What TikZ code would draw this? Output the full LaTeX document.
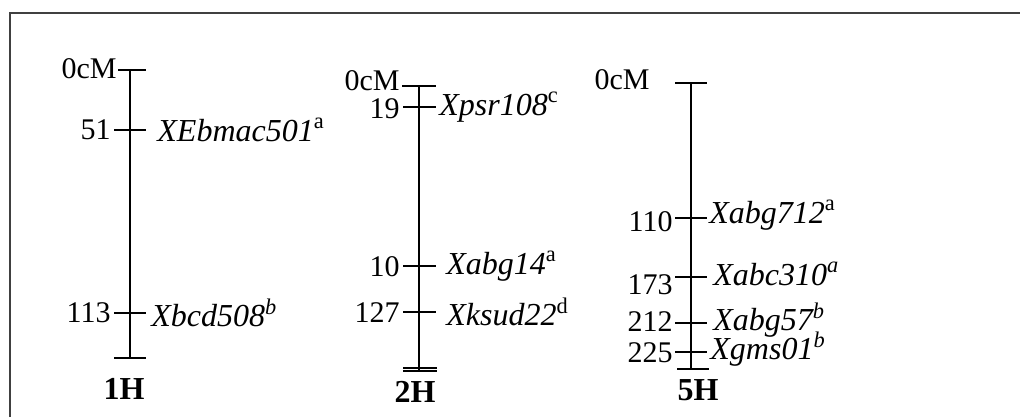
\documentclass[tikz,border=0pt]{standalone}
\usepackage{fontspec}
\setmainfont{Liberation Serif}

\tikzset{
  frameline/.style={black!75, line width=1.4pt},
  chrom/.style={line width=1pt},
  mtick/.style={line width=1pt},
  dist/.style={anchor=east, inner sep=0pt, font=\fontsize{15}{17}\selectfont},
  marker/.style={anchor=west, inner sep=0pt, font=\itshape\fontsize{16}{18}\selectfont},
  chrname/.style={font=\bfseries\fontsize{16}{18}\selectfont},
}

\begin{document}
\begin{tikzpicture}[x=0.5pt, y=-0.5pt]
        \useasboundingbox (0,0) rectangle (1020,417);

        % 1. Frame (only top and left edges show)
        \coordinate (fbl) at (10,417);
        \coordinate (ftl) at (10,13);
        \coordinate (ftr) at (1020,13);
        \draw[frameline] (fbl) -- (ftl) -- (ftr);

        % 2. Chromosome 1H
        \coordinate (top1) at (130,70);
        \coordinate (bot1) at (130,358);
        \draw[chrom] (top1) -- (bot1);
        \draw[mtick] (118,70) -- (146,70);
        \draw[mtick] (114,358) -- (146,358);
        \node[dist] (cM1) at (117,69) {0cM};
        \foreach \y/\d/\o/\m in {130/51/27/{XEbmac501\textsuperscript{\upshape a}},
                                313/113/21/{Xbcd508\textsuperscript{b}}}
        {
            \draw[mtick] (114,\y) -- (146,\y);
            \node[dist] (d1-\d) at (111,\y) {\d};
            \node[marker] (m1-\d) at (130+\o,\y) {\m};
        }
        \node[chrname] (chr1) at (124,389) {1H};

        % 3. Chromosome 2H
        \coordinate (top2) at (419,86);
        \coordinate (bot2) at (419,371);
        \draw[chrom] (top2) -- (bot2);
        \draw[mtick] (402,86) -- (436,86);
        \draw[mtick] (403,371) -- (437,371);
        \draw[mtick] (403,368) -- (437,368);
        \node[dist] (cM2) at (400,81) {0cM};
        \foreach \y/\e/\d/\o/\m in {107/2/19/20/{Xpsr108\textsuperscript{\upshape c}},
                                   266/1/10/27/{Xabg14\textsuperscript{\upshape a}},
                                   312/1/127/27/{Xksud22\textsuperscript{\upshape d}}}
        {
            \draw[mtick] (403,\y) -- (436,\y);
            \node[dist] (d2-\d) at (400,\y+\e) {\d};
            \node[marker] (m2-\d) at (419+\o,\y) {\m};
        }
        \node[chrname] (chr2) at (415,392) {2H};

        % 4. Chromosome 5H
        \coordinate (top5) at (691,83);
        \coordinate (bot5) at (691,369);
        \draw[chrom] (top5) -- (bot5);
        \draw[mtick] (675,83) -- (707,83);
        \draw[mtick] (677,369) -- (709,369);
        \node[dist] (cM5) at (650,80) {0cM};
        \foreach \y/\e/\d/\o/\m in {218/4/110/18/{Xabg712\textsuperscript{\upshape a}},
                                   277/8/173/22/{Xabc310\textsuperscript{a}},
                                   323/-1/212/22/{Xabg57\textsuperscript{b}},
                                   352/1/225/19/{Xgms01\textsuperscript{b}}}
        {
            \draw[mtick] (675,\y) -- (707,\y);
            \node[dist] (d5-\d) at (673,\y+\e) {\d};
            \node[marker] (m5-\d) at (691+\o,\y-3) {\m};
        }
        \node[chrname] (chr5) at (698,390) {5H};

    \end{tikzpicture}
\end{document}
